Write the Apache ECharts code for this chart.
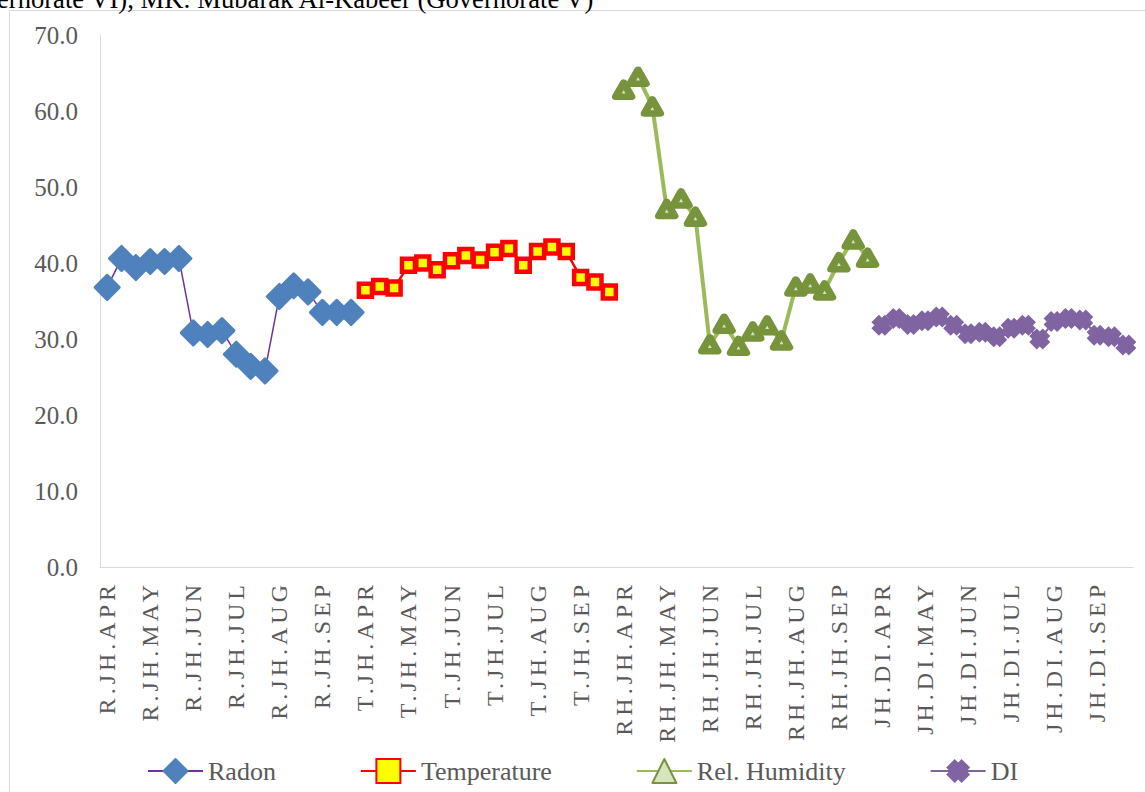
<!DOCTYPE html>
<html>
<head>
<meta charset="utf-8">
<script src="https://cdn.jsdelivr.net/npm/echarts@6/dist/echarts.min.js"></script>
<style>
  html, body { margin: 0; padding: 0; background: #ffffff; }
  #chart { width: 1145px; height: 792px; }
  /* one serif face for every text of the chart */
  #chart svg text { font-family: 'Liberation Serif', serif !important; }
  /* spaced-out lettering of the category labels */
  #chart text[style*="24px"] { letter-spacing: 4px; }
</style>
</head>
<body>
<div id="chart"></div>
<script>
// Category axis: three readings per month for each variable block
const radonCats = ['R.JH.APR','R.JH.APR','R.JH.APR','R.JH.MAY','R.JH.MAY','R.JH.MAY',
  'R.JH.JUN','R.JH.JUN','R.JH.JUN','R.JH.JUL','R.JH.JUL','R.JH.JUL',
  'R.JH.AUG','R.JH.AUG','R.JH.AUG','R.JH.SEP','R.JH.SEP','R.JH.SEP'];
const tempCats = ['T.JH.APR','T.JH.APR','T.JH.APR','T.JH.MAY','T.JH.MAY','T.JH.MAY',
  'T.JH.JUN','T.JH.JUN','T.JH.JUN','T.JH.JUL','T.JH.JUL','T.JH.JUL',
  'T.JH.AUG','T.JH.AUG','T.JH.AUG','T.JH.SEP','T.JH.SEP','T.JH.SEP'];
const humCats = ['RH.JH.APR','RH.JH.APR','RH.JH.APR','RH.JH.MAY','RH.JH.MAY','RH.JH.MAY',
  'RH.JH.JUN','RH.JH.JUN','RH.JH.JUN','RH.JH.JUL','RH.JH.JUL','RH.JH.JUL',
  'RH.JH.AUG','RH.JH.AUG','RH.JH.AUG','RH.JH.SEP','RH.JH.SEP','RH.JH.SEP'];
const diCats = ['JH.DI.APR','JH.DI.APR','JH.DI.APR','JH.DI.MAY','JH.DI.MAY','JH.DI.MAY',
  'JH.DI.JUN','JH.DI.JUN','JH.DI.JUN','JH.DI.JUL','JH.DI.JUL','JH.DI.JUL',
  'JH.DI.AUG','JH.DI.AUG','JH.DI.AUG','JH.DI.SEP','JH.DI.SEP','JH.DI.SEP'];

// Series values
const radon       = [36.8, 40.6, 39.4, 40.2, 40.2, 40.6, 30.8, 30.6, 31.1, 28.0, 26.4, 25.8, 35.6, 37.0, 36.2, 33.5, 33.5, 33.5];
const temperature = [36.4, 36.9, 36.7, 39.7, 40.0, 39.1, 40.3, 41.0, 40.4, 41.4, 41.9, 39.7, 41.5, 42.1, 41.5, 38.1, 37.5, 36.2];
const humidity    = [62.8, 64.5, 60.6, 47.1, 48.5, 46.1, 29.3, 32.0, 29.1, 31.0, 31.8, 29.8, 36.9, 37.3, 36.4, 40.1, 43.1, 40.7];
const di          = [31.8, 32.7, 31.9, 32.4, 32.9, 31.8, 30.7, 30.9, 30.3, 31.4, 31.8, 30.0, 32.3, 32.7, 32.5, 30.5, 30.3, 29.2];

// Value axis ticks
const yMin = 0, yMax = 70, yStep = 10;

const categories = [].concat(radonCats, tempCats, humCats, diCats);

// Each series occupies its own block of the shared category axis
function placeInBlock(values, blockIndex) {
  const out = new Array(categories.length).fill(null);
  const start = blockIndex * values.length;
  values.forEach((v, i) => { out[start + i] = v; });
  return out;
}

const FONT = 'Liberation Serif, serif';
const crossPath = 'path://M12.82 0.1 L19.9 7.18 L17.07 10 L19.9 12.82 L12.82 19.9 L10 17.07 L7.18 19.9 L0.1 12.82 L2.93 10 L0.1 7.18 L7.18 0.1 L10 2.93 Z';

const chart = echarts.init(document.getElementById('chart'), null, { renderer: 'svg' });

chart.setOption({
  animation: false,
  backgroundColor: '#ffffff',
  textStyle: { fontFamily: FONT },
  graphic: [
    {
      type: 'rect',
      silent: true,
      shape: { x: 9.5, y: 10.5, width: 1300, height: 900 },
      style: { fill: 'none', stroke: '#D9D9D9', lineWidth: 1 }
    },
    {
      type: 'text',
      silent: true,
      x: -3,
      y: -1,
      style: {
        text: 'ernorate VI), MK: Mubarak Al-Kabeer (Governorate V)',
        font: '26.6px ' + FONT,
        fill: '#000000',
        verticalAlign: 'middle'
      }
    }
  ],
  grid: {
    left: 100, right: 12, top: 35, bottom: 225,
    containLabel: false,
    outerBoundsMode: 'none'
  },
  legend: {
    left: 142,
    top: 753,
    itemWidth: 55,
    itemHeight: 30,
    itemGap: 84,
    textStyle: { fontFamily: FONT, fontSize: 26, color: '#595959' },
    data: ['Radon', 'Temperature', 'Rel. Humidity', 'DI']
  },
  xAxis: {
    type: 'category',
    data: categories,
    boundaryGap: true,
    axisLine: { lineStyle: { color: '#D9D9D9', width: 1 } },
    axisTick: { show: false },
    axisLabel: {
      interval: 2,
      rotate: 90,
      margin: 14,
      fontFamily: FONT,
      fontSize: 24,
      color: '#595959'
    },
    splitLine: { show: false }
  },
  yAxis: {
    type: 'value',
    min: yMin, max: yMax, interval: yStep,
    axisLine: { show: true, lineStyle: { color: '#D9D9D9', width: 1 } },
    axisTick: { show: false },
    splitLine: { show: false },
    axisLabel: {
      margin: 22,
      fontFamily: FONT,
      fontSize: 25,
      color: '#595959',
      formatter: v => v.toFixed(1)
    }
  },
  series: [
    {
      name: 'Radon',
      type: 'line',
      data: placeInBlock(radon, 0),
      showAllSymbol: true,
      symbol: 'diamond',
      symbolSize: 24,
      lineStyle: { color: '#7030A0', width: 1.5 },
      itemStyle: { color: '#4F81BD', borderColor: '#4F81BD', borderWidth: 3, borderJoin: 'round' }
    },
    {
      name: 'Temperature',
      type: 'line',
      data: placeInBlock(temperature, 1),
      showAllSymbol: true,
      symbol: 'rect',
      symbolSize: 13,
      lineStyle: { color: '#FF0000', width: 2.5 },
      itemStyle: { color: '#FFFF00', borderColor: '#FF0000', borderWidth: 4.5 }
    },
    {
      name: 'Rel. Humidity',
      type: 'line',
      data: placeInBlock(humidity, 2),
      showAllSymbol: true,
      symbol: 'triangle',
      symbolSize: [16, 14],
      lineStyle: { color: '#9BBB59', width: 4 },
      itemStyle: { color: '#D7E4BD', borderColor: '#77933C', borderWidth: 7, borderJoin: 'round' }
    },
    {
      name: 'DI',
      type: 'line',
      data: placeInBlock(di, 3),
      showAllSymbol: true,
      symbol: crossPath,
      symbolSize: 21,
      lineStyle: { color: '#8064A2', width: 2 },
      itemStyle: { color: '#8064A2', borderColor: '#8064A2', borderWidth: 0 }
    }
  ]
});
</script>
</body>
</html>
